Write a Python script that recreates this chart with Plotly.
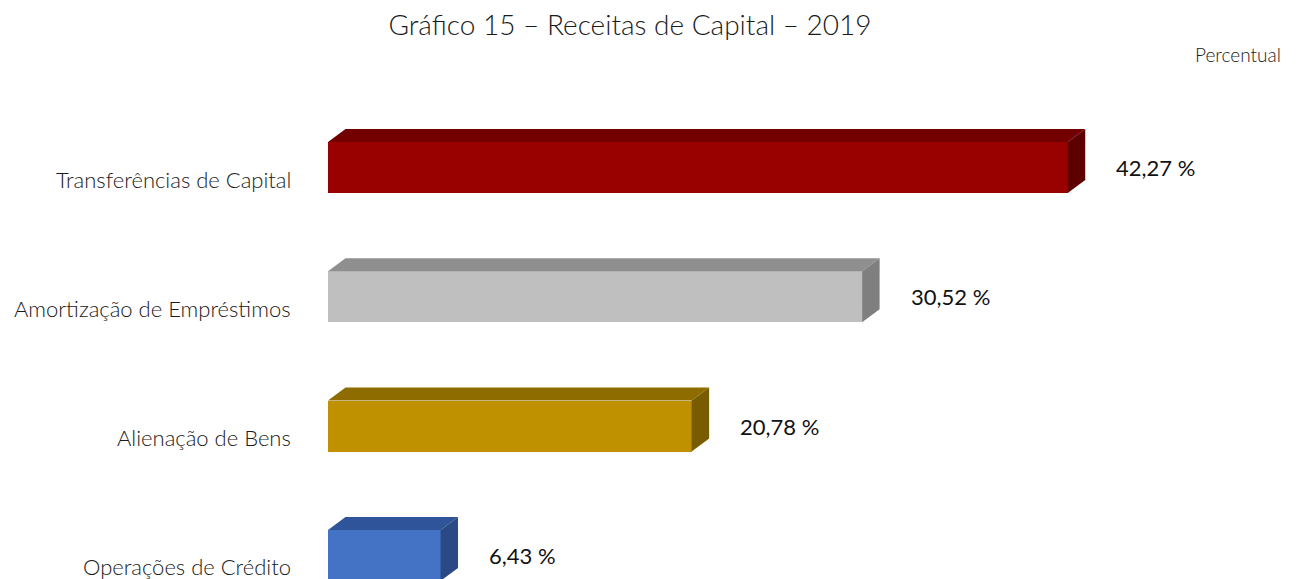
import plotly.graph_objects as go

categories = ["Transferências de Capital", "Amortização de Empréstimos", "Alienação de Bens", "Operações de Crédito"]
values = [42.27, 30.52, 20.78, 6.43]
value_labels = ["42,27 %", "30,52 %", "20,78 %", "6,43 %"]
front_colors = ["#990000", "#bfbfbf", "#bf9000", "#4472c4"]
top_colors = ["#730000", "#8f8f8f", "#8f6c00", "#30549a"]
side_colors = ["#5f0000", "#7f7f7f", "#7a5c00", "#2b4a85"]

# page body has an 8px margin: the figure is drawn starting at (8, 8)
OFF = 8
W, H = 1298 - OFF, 579 - OFF
L, R, T, B = 328 - OFF, 0, 100 - OFF, 0
px_per_x = 17.5
x_max = (W - L - R) / px_per_x
cat_px = 129.3
first_label_px = 179 - OFF
y_top = (T - first_label_px) / cat_px
y_bot = (H - B - first_label_px) / cat_px

bar_w = 51 / cat_px
bar_off = -11.5 / cat_px - bar_w / 2
dx = 17.5 / px_per_x
dy = 13 / cat_px

pos = list(range(len(categories)))
fig = go.Figure()

fig.add_trace(go.Bar(
    y=pos, x=values, orientation="h", base=0, width=bar_w, offset=bar_off,
    marker=dict(color=front_colors, line=dict(width=0)), showlegend=False, hoverinfo="skip"))

for i, v in enumerate(values):
    yt = pos[i] + bar_off
    yb = yt + bar_w
    fig.add_trace(go.Scatter(
        x=[0, v, v + dx, dx, 0], y=[yt, yt, yt - dy, yt - dy, yt],
        mode="lines", fill="toself", fillcolor=top_colors[i], line=dict(width=0),
        showlegend=False, hoverinfo="skip"))
    fig.add_trace(go.Scatter(
        x=[v, v + dx, v + dx, v, v], y=[yt, yt - dy, yb - dy, yb, yt],
        mode="lines", fill="toself", fillcolor=side_colors[i], line=dict(width=0),
        showlegend=False, hoverinfo="skip"))
    fig.add_annotation(x=v + dx, y=yt + bar_w / 2, text=value_labels[i], showarrow=False,
                       xanchor="left", yanchor="middle", xshift=29,
                       font=dict(family="Lato", size=22, color="#111111"))
    fig.add_annotation(xref="paper", x=0, y=pos[i], text=categories[i], showarrow=False,
                       xanchor="right", yanchor="middle", xshift=-35,
                       font=dict(family="Lato", size=22, weight=300, color="#1a1a1a"))

fig.update_layout(
    width=W, height=H, margin=dict(l=L, r=R, t=T, b=B),
    paper_bgcolor="white", plot_bgcolor="white",
    title=dict(text="Gráfico 15 – Receitas de Capital – 2019", x=(630 - OFF) / W, xanchor="center",
               y=1 - (25 - OFF) / H, yanchor="middle", xref="container", yref="container",
               font=dict(family="Lato", size=28, weight=300, color="#1a1a1a")),
    xaxis=dict(range=[0, x_max], visible=False, fixedrange=True),
    yaxis=dict(range=[y_bot, y_top], showticklabels=False, showgrid=False,
               zeroline=False, showline=False, ticks="", fixedrange=True),
    bargap=0,
)
fig.add_annotation(xref="paper", yref="paper", x=(1283 - OFF - L) / (W - L - R),
                   y=1 + (T - (54 - OFF)) / (H - T - B),
                   text="Percentual", showarrow=False, xanchor="right", yanchor="middle",
                   font=dict(family="Lato", size=19, weight=300, color="#1a1a1a"))

fig.write_html("out.html")
